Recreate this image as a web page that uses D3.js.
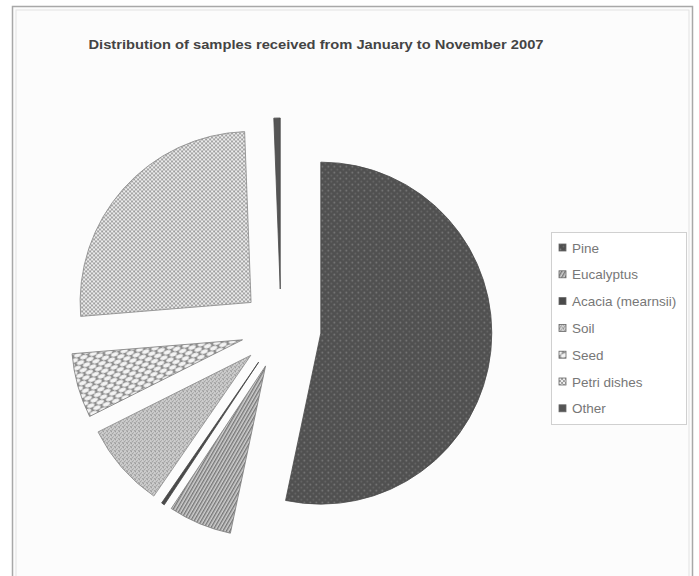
<!DOCTYPE html>
<html><head><meta charset="utf-8">
<script src="https://cdn.jsdelivr.net/npm/d3@7"></script>
<style>html,body{margin:0;padding:0;background:#fff;}svg{display:block;}</style>
</head><body>
<script>
// ---- data ----
const title = "Distribution of samples received from January to November 2007";
const categories = ["Pine", "Eucalyptus", "Acacia (mearnsii)", "Soil", "Seed", "Petri dishes", "Other"];
const values = [53.3, 6.0, 0.3, 8.0, 6.1, 25.7, 0.6];

const W = 699, H = 576;
const svg = d3.select("body").append("svg").attr("width", W).attr("height", H);
const defs = svg.append("defs");

// ---- patterns (styles) ----
function pat(id, w, h, bg, draw, transform) {
  const p = defs.append("pattern").attr("id", id).attr("patternUnits", "userSpaceOnUse")
    .attr("width", w).attr("height", h);
  if (transform) p.attr("patternTransform", transform);
  p.append("rect").attr("width", w).attr("height", h).attr("fill", bg);
  draw(p);
}
pat("p0", 6, 6, "#505050", p => {
  p.append("circle").attr("cx", 1.5).attr("cy", 1.5).attr("r", 0.9).attr("fill", "#7d7d7d");
  p.append("circle").attr("cx", 4.5).attr("cy", 4.5).attr("r", 0.9).attr("fill", "#6a6a6a");
});
pat("p1", 3, 3, "#cfcfcf", p => {
  p.append("rect").attr("width", 1.4).attr("height", 3).attr("fill", "#767676");
}, "rotate(30)");
pat("p2", 4, 4, "#4a4a4a", p => {});
pat("p3", 4, 4, "#cfcfcf", p => {
  p.append("rect").attr("x", 0).attr("y", 0).attr("width", 1).attr("height", 1).attr("fill", "#8a8a8a");
  p.append("rect").attr("x", 2).attr("y", 1).attr("width", 1).attr("height", 1).attr("fill", "#999");
  p.append("rect").attr("x", 1).attr("y", 2).attr("width", 1).attr("height", 1).attr("fill", "#8f8f8f");
  p.append("rect").attr("x", 3).attr("y", 3).attr("width", 1).attr("height", 1).attr("fill", "#959595");
  p.append("rect").attr("x", 0).attr("y", 3).attr("width", 1).attr("height", 1).attr("fill", "#a5a5a5");
});
pat("p4", 10, 8, "#8f8f8f", p => {
  p.append("ellipse").attr("cx", 5).attr("cy", 2).attr("rx", 3.8).attr("ry", 1.9).attr("fill", "#f4f4f4");
  p.append("ellipse").attr("cx", 0).attr("cy", 6).attr("rx", 3.8).attr("ry", 1.9).attr("fill", "#f4f4f4");
  p.append("ellipse").attr("cx", 10).attr("cy", 6).attr("rx", 3.8).attr("ry", 1.9).attr("fill", "#f4f4f4");
}, "rotate(-20)");
pat("p5", 4, 4, "#9c9c9c", p => {
  p.append("circle").attr("cx", 1).attr("cy", 1).attr("r", 1.2).attr("fill", "#f0f0f0");
  p.append("circle").attr("cx", 3).attr("cy", 3).attr("r", 1.2).attr("fill", "#f0f0f0");
});
pat("p6", 4, 4, "#555", p => {});

const strokes = ["#4a4a4a", "#7a7a7a", "#444", "#8a8a8a", "#7a7a7a", "#888", "#4a4a4a"];

// ---- frame ----
svg.append("rect").attr("x", 0).attr("y", 0).attr("width", W).attr("height", H).attr("fill", "#fff");
svg.append("rect").attr("x", 12.5).attr("y", 6.5).attr("width", 680).attr("height", 575)
  .attr("fill", "#fcfcfc").attr("stroke", "#a8a8a8").attr("stroke-width", 1.5);
svg.append("rect").attr("x", 16).attr("y", 10).attr("width", 673).attr("height", 570)
  .attr("fill", "none").attr("stroke", "#e2e2e2").attr("stroke-width", 1);

// ---- title ----
svg.append("text").attr("x", 316).attr("y", 49).attr("text-anchor", "middle")
  .attr("font-family", "Liberation Sans, Arial, sans-serif").attr("font-weight", "bold")
  .attr("font-size", 12.5).attr("fill", "#444")
  .attr("textLength", 455).attr("lengthAdjust", "spacingAndGlyphs")
  .text(title);

// ---- pie ----
const cx = 281, cy = 329, R = 171, explode = 40;
const data = categories.map((c, i) => ({ name: c, value: values[i], i }));
const pie = d3.pie().value(d => d.value).sort(null).startAngle(0).endAngle(2 * Math.PI);
const arc = d3.arc().innerRadius(0).outerRadius(R);
const g = svg.append("g").attr("transform", `translate(${cx},${cy})`);
g.selectAll("path").data(pie(data)).join("path")
  .attr("transform", d => {
    const m = (d.startAngle + d.endAngle) / 2;
    return `translate(${explode * Math.sin(m)},${-explode * Math.cos(m)})`;
  })
  .attr("d", arc)
  .attr("fill", d => `url(#p${d.data.i})`)
  .attr("stroke", d => strokes[d.data.i])
  .attr("stroke-width", 0.8)
  .attr("stroke-linejoin", "round");

// ---- legend ----
const lx = 551, ly = 232, lw = 135, lh = 192;
svg.append("rect").attr("x", lx + 0.5).attr("y", ly + 0.5).attr("width", lw).attr("height", lh)
  .attr("fill", "#fff").attr("stroke", "#d0d0d0").attr("stroke-width", 1);
const leg = svg.append("g");
const step = 26.8;
const items = leg.selectAll("g").data(data).join("g")
  .attr("transform", (d, i) => `translate(${lx + 8},${248 + i * step})`);
items.append("rect").attr("x", 0).attr("y", -4).attr("width", 7).attr("height", 7)
  .attr("fill", d => `url(#p${d.i})`).attr("stroke", "#666").attr("stroke-width", 0.8);
items.append("text").attr("x", 13).attr("y", 4.5)
  .attr("font-family", "Liberation Sans, Arial, sans-serif").attr("font-size", 13.5)
  .attr("fill", "#777").text(d => d.name);
</script>
</body></html>
